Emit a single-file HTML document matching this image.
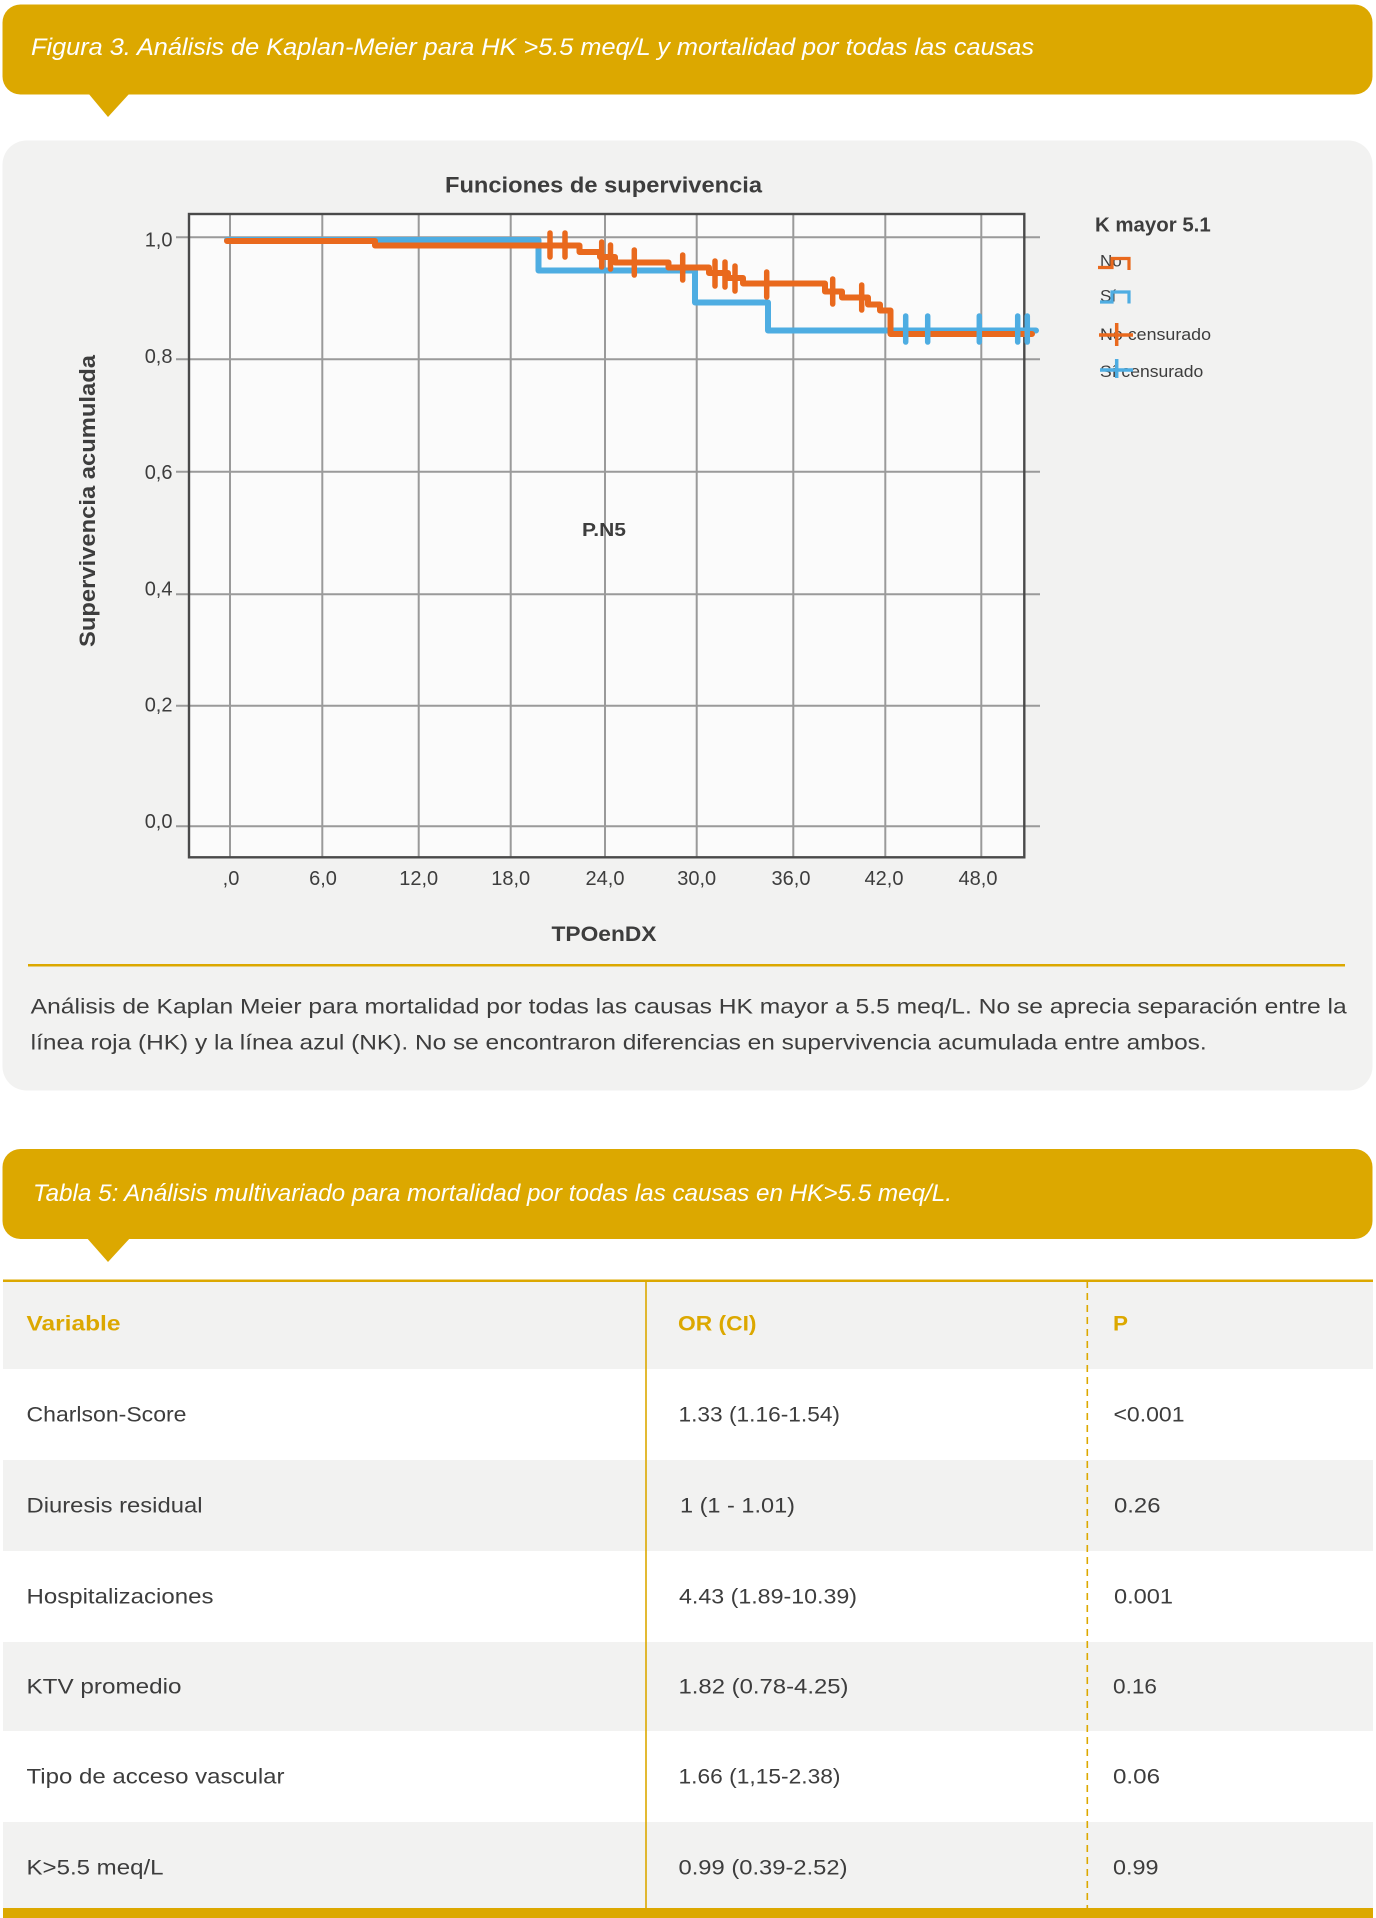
<!DOCTYPE html>
<html><head><meta charset="utf-8"><style>
html,body{margin:0;padding:0;background:#fff;}
body{width:1376px;height:1918px;overflow:hidden;}
svg{display:block;}
text{font-family:"Liberation Sans",Arial,sans-serif;}
.t{fill:#3d3d3d;}
.b{font-weight:bold;}
</style></head><body>
<svg width="1376" height="1918" viewBox="0 0 1376 1918" xmlns="http://www.w3.org/2000/svg">
<!-- Banner 1 -->
<rect x="2.5" y="4.5" width="1370" height="90" rx="18" fill="#DCA800"/>
<polygon points="88,93 130,93 108,117" fill="#DCA800"/>
<text x="31" y="55" font-size="24" font-style="italic" fill="#fff" textLength="1003" lengthAdjust="spacingAndGlyphs">Figura 3. Análisis de Kaplan-Meier para HK &gt;5.5 meq/L y mortalidad por todas las causas</text>

<!-- Chart panel -->
<rect x="2.5" y="140.5" width="1370" height="950" rx="24" fill="#F2F2F1"/>
<text class="t b" x="445" y="192.7" font-size="22" textLength="317" lengthAdjust="spacingAndGlyphs">Funciones de supervivencia</text>

<rect x="189" y="214" width="835.3" height="643.3" fill="#FBFBFB"/>
<g stroke="#9a9a9a" stroke-width="2">
<line x1="230" y1="214" x2="230" y2="857"/>
<line x1="322.3" y1="214" x2="322.3" y2="857"/>
<line x1="418.7" y1="214" x2="418.7" y2="857"/>
<line x1="510.7" y1="214" x2="510.7" y2="857"/>
<line x1="605" y1="214" x2="605" y2="857"/>
<line x1="696.7" y1="214" x2="696.7" y2="857"/>
<line x1="793.3" y1="214" x2="793.3" y2="857"/>
<line x1="885.3" y1="214" x2="885.3" y2="857"/>
<line x1="981.3" y1="214" x2="981.3" y2="857"/>
<line x1="176" y1="237.3" x2="1040" y2="237.3"/>
<line x1="176" y1="359.3" x2="1040" y2="359.3"/>
<line x1="176" y1="471.7" x2="1040" y2="471.7"/>
<line x1="176" y1="594.3" x2="1040" y2="594.3"/>
<line x1="176" y1="705.8" x2="1040" y2="705.8"/>
<line x1="176" y1="826.3" x2="1040" y2="826.3"/>
</g>
<rect x="189" y="214" width="835.3" height="643.3" fill="none" stroke="#4a4a4a" stroke-width="2.4"/>

<!-- Y labels -->
<g class="t" font-size="20" text-anchor="end">
<text x="172.5" y="246.5">1,0</text>
<text x="172.5" y="362.8">0,8</text>
<text x="172.5" y="479.1">0,6</text>
<text x="172.5" y="595.4">0,4</text>
<text x="172.5" y="711.7">0,2</text>
<text x="172.5" y="827.8">0,0</text>
</g>
<!-- X labels -->
<g class="t" font-size="20" text-anchor="middle">
<text x="231" y="885">,0</text>
<text x="323" y="885">6,0</text>
<text x="418.7" y="885">12,0</text>
<text x="510.7" y="885">18,0</text>
<text x="605" y="885">24,0</text>
<text x="696.7" y="885">30,0</text>
<text x="791" y="885">36,0</text>
<text x="884" y="885">42,0</text>
<text x="978" y="885">48,0</text>
</g>
<text class="t b" x="551.5" y="941" font-size="21" textLength="105" lengthAdjust="spacingAndGlyphs">TPOenDX</text>
<text class="t b" x="95" y="501" font-size="22" text-anchor="middle" transform="rotate(-90 95 501)" textLength="292" lengthAdjust="spacingAndGlyphs">Supervivencia acumulada</text>
<text class="t b" x="582" y="536" font-size="18" textLength="44" lengthAdjust="spacingAndGlyphs">P.N5</text>

<!-- Curves -->
<path d="M227 240 H538.5 V270.5 H695 V302.5 H768 V330.5 H1036" fill="none" stroke="#4EADE2" stroke-width="6" stroke-linejoin="round" stroke-linecap="round"/>
<path d="M227 241 H375 V245.5 H579.5 V252 H600 V257 H615 V262.5 H668.5 V267.5 H709 V273 H728 V278 H743 V283.5 H825 V291.5 H842 V297.5 H868 V304.5 H880 V310.5 H890.5 V334 H1032" fill="none" stroke="#E9691D" stroke-width="6" stroke-linejoin="round" stroke-linecap="round"/>
<g stroke="#E9691D" stroke-width="5.5" stroke-linecap="round">
<line x1="550" y1="233" x2="550" y2="257"/>
<line x1="565" y1="233" x2="565" y2="257"/>
<line x1="601.7" y1="242" x2="601.7" y2="267"/>
<line x1="610.5" y1="245" x2="610.5" y2="269"/>
<line x1="634.3" y1="250" x2="634.3" y2="275"/>
<line x1="682.7" y1="255" x2="682.7" y2="280"/>
<line x1="715" y1="261" x2="715" y2="286"/>
<line x1="725" y1="262" x2="725" y2="287"/>
<line x1="735" y1="266" x2="735" y2="291"/>
<line x1="766.7" y1="272" x2="766.7" y2="297"/>
<line x1="832.7" y1="279" x2="832.7" y2="304"/>
<line x1="861.7" y1="285" x2="861.7" y2="310"/>
</g>
<g stroke="#4EADE2" stroke-width="5.5" stroke-linecap="round">
<line x1="905.7" y1="316" x2="905.7" y2="342"/>
<line x1="927.7" y1="316" x2="927.7" y2="342"/>
<line x1="979.3" y1="316" x2="979.3" y2="342"/>
<line x1="1017.7" y1="316" x2="1017.7" y2="342"/>
<line x1="1027.3" y1="316" x2="1027.3" y2="342"/>
</g>

<!-- Legend -->
<text class="t b" x="1095" y="231.7" font-size="20" textLength="115.7" lengthAdjust="spacingAndGlyphs">K mayor 5.1</text>
<text class="t" x="1100" y="266.7" font-size="17" textLength="21.7" lengthAdjust="spacingAndGlyphs">No</text>
<path d="M1098 267.5 H1112 V258.5 H1129 V270" fill="none" stroke="#E9691D" stroke-width="3.2"/>
<text class="t" x="1100" y="301.7" font-size="17">Sí</text>
<path d="M1100 302 H1112 V292 H1129 V303.5" fill="none" stroke="#4EADE2" stroke-width="3.2"/>
<text class="t" x="1100" y="340" font-size="17" textLength="111" lengthAdjust="spacingAndGlyphs">No censurado</text>
<line x1="1099" y1="335" x2="1133" y2="335" stroke="#E9691D" stroke-width="3.5"/>
<line x1="1116.7" y1="323" x2="1116.7" y2="346" stroke="#E9691D" stroke-width="3.5"/>
<text class="t" x="1100" y="377" font-size="17" textLength="103.3" lengthAdjust="spacingAndGlyphs">Sí censurado</text>
<line x1="1100" y1="370" x2="1133" y2="370" stroke="#4EADE2" stroke-width="3.5"/>
<line x1="1116.7" y1="359" x2="1116.7" y2="378" stroke="#4EADE2" stroke-width="3.5"/>

<!-- separator + caption -->
<rect x="28" y="964" width="1317" height="2.5" fill="#DCA800"/>
<text class="t" x="30.7" y="1013.3" font-size="21" textLength="1316" lengthAdjust="spacingAndGlyphs">Análisis de Kaplan Meier para mortalidad por todas las causas HK mayor a 5.5 meq/L. No se aprecia separación entre la</text>
<text class="t" x="30.7" y="1049.3" font-size="21" textLength="1176" lengthAdjust="spacingAndGlyphs">línea roja (HK) y la línea azul (NK). No se encontraron diferencias en supervivencia acumulada entre ambos.</text>

<!-- Banner 2 -->
<rect x="2.5" y="1149" width="1370" height="90" rx="18" fill="#DCA800"/>
<polygon points="86,1237 131,1237 108,1262" fill="#DCA800"/>
<text x="33" y="1201" font-size="24" font-style="italic" fill="#fff" textLength="919" lengthAdjust="spacingAndGlyphs">Tabla 5: Análisis multivariado para mortalidad por todas las causas en HK&gt;5.5 meq/L.</text>

<!-- Table -->
<rect x="3" y="1281" width="1370" height="88" fill="#F2F2F1"/>
<rect x="3" y="1460" width="1370" height="91" fill="#F2F2F1"/>
<rect x="3" y="1642" width="1370" height="89" fill="#F2F2F1"/>
<rect x="3" y="1822" width="1370" height="86" fill="#F2F2F1"/>
<rect x="3" y="1279.5" width="1370" height="2.5" fill="#DCA800"/>
<rect x="3" y="1908" width="1370" height="10" fill="#DCA800"/>
<line x1="646" y1="1281" x2="646" y2="1908" stroke="#DCA800" stroke-width="1.6"/>
<line x1="1087.3" y1="1281" x2="1087.3" y2="1908" stroke="#DCA800" stroke-width="1.6" stroke-dasharray="7,5"/>

<g class="b" font-size="21" fill="#DCA800">
<text x="26.5" y="1330.7" textLength="94" lengthAdjust="spacingAndGlyphs">Variable</text>
<text x="678" y="1330.7" textLength="78.5" lengthAdjust="spacingAndGlyphs">OR (CI)</text>
<text x="1113" y="1330.7" textLength="15" lengthAdjust="spacingAndGlyphs">P</text>
</g>
<g class="t" font-size="21">
<text x="26.5" y="1421.7" textLength="160" lengthAdjust="spacingAndGlyphs">Charlson-Score</text>
<text x="678.5" y="1421.7" textLength="161.5" lengthAdjust="spacingAndGlyphs">1.33 (1.16-1.54)</text>
<text x="1113.5" y="1421.7" textLength="71" lengthAdjust="spacingAndGlyphs">&lt;0.001</text>

<text x="26.5" y="1512.5" textLength="176" lengthAdjust="spacingAndGlyphs">Diuresis residual</text>
<text x="680" y="1512.5" textLength="115" lengthAdjust="spacingAndGlyphs">1 (1 - 1.01)</text>
<text x="1114" y="1512.5" textLength="46.5" lengthAdjust="spacingAndGlyphs">0.26</text>

<text x="26.5" y="1603.5" textLength="187" lengthAdjust="spacingAndGlyphs">Hospitalizaciones</text>
<text x="679" y="1603.5" textLength="178" lengthAdjust="spacingAndGlyphs">4.43 (1.89-10.39)</text>
<text x="1114" y="1603.5" textLength="59" lengthAdjust="spacingAndGlyphs">0.001</text>

<text x="26.5" y="1693.3" textLength="155" lengthAdjust="spacingAndGlyphs">KTV promedio</text>
<text x="678.5" y="1693.3" textLength="170" lengthAdjust="spacingAndGlyphs">1.82 (0.78-4.25)</text>
<text x="1113" y="1693.3" textLength="44" lengthAdjust="spacingAndGlyphs">0.16</text>

<text x="26.5" y="1783.3" textLength="258" lengthAdjust="spacingAndGlyphs">Tipo de acceso vascular</text>
<text x="678.5" y="1783.3" textLength="162" lengthAdjust="spacingAndGlyphs">1.66 (1,15-2.38)</text>
<text x="1113" y="1783.3" textLength="47" lengthAdjust="spacingAndGlyphs">0.06</text>

<text x="26.5" y="1874.3" textLength="137" lengthAdjust="spacingAndGlyphs">K&gt;5.5 meq/L</text>
<text x="678.5" y="1874.3" textLength="169" lengthAdjust="spacingAndGlyphs">0.99 (0.39-2.52)</text>
<text x="1113" y="1874.3" textLength="45.5" lengthAdjust="spacingAndGlyphs">0.99</text>
</g>
</svg>
</body></html>
